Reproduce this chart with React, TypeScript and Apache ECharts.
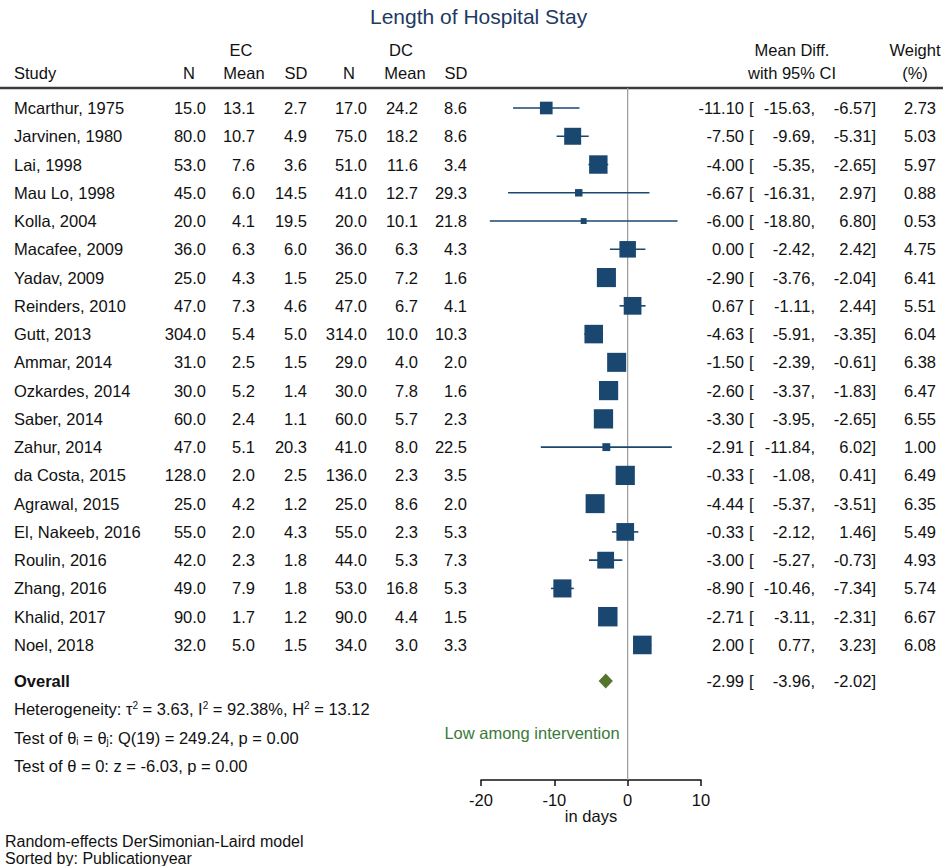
import React, { useEffect, useRef } from "react";
import * as echarts from "echarts";

const studies = [
  "Mcarthur, 1975", "Jarvinen, 1980", "Lai, 1998", "Mau Lo, 1998", "Kolla, 2004",
  "Macafee, 2009", "Yadav, 2009", "Reinders, 2010", "Gutt, 2013", "Ammar, 2014",
  "Ozkardes, 2014", "Saber, 2014", "Zahur, 2014", "da Costa, 2015", "Agrawal, 2015",
  "El, Nakeeb, 2016", "Roulin, 2016", "Zhang, 2016", "Khalid, 2017", "Noel, 2018",
];
const ecN = [15.0, 80.0, 53.0, 45.0, 20.0, 36.0, 25.0, 47.0, 304.0, 31.0, 30.0, 60.0, 47.0, 128.0, 25.0, 55.0, 42.0, 49.0, 90.0, 32.0];
const ecMean = [13.1, 10.7, 7.6, 6.0, 4.1, 6.3, 4.3, 7.3, 5.4, 2.5, 5.2, 2.4, 5.1, 2.0, 4.2, 2.0, 2.3, 7.9, 1.7, 5.0];
const ecSD = [2.7, 4.9, 3.6, 14.5, 19.5, 6.0, 1.5, 4.6, 5.0, 1.5, 1.4, 1.1, 20.3, 2.5, 1.2, 4.3, 1.8, 1.8, 1.2, 1.5];
const dcN = [17.0, 75.0, 51.0, 41.0, 20.0, 36.0, 25.0, 47.0, 314.0, 29.0, 30.0, 60.0, 41.0, 136.0, 25.0, 55.0, 44.0, 53.0, 90.0, 34.0];
const dcMean = [24.2, 18.2, 11.6, 12.7, 10.1, 6.3, 7.2, 6.7, 10.0, 4.0, 7.8, 5.7, 8.0, 2.3, 8.6, 2.3, 5.3, 16.8, 4.4, 3.0];
const dcSD = [8.6, 8.6, 3.4, 29.3, 21.8, 4.3, 1.6, 4.1, 10.3, 2.0, 1.6, 2.3, 22.5, 3.5, 2.0, 5.3, 7.3, 5.3, 1.5, 3.3];
const meanDiff = [-11.10, -7.50, -4.00, -6.67, -6.00, 0.00, -2.90, 0.67, -4.63, -1.50, -2.60, -3.30, -2.91, -0.33, -4.44, -0.33, -3.00, -8.90, -2.71, 2.00];
const ciLow = [-15.63, -9.69, -5.35, -16.31, -18.80, -2.42, -3.76, -1.11, -5.91, -2.39, -3.37, -3.95, -11.84, -1.08, -5.37, -2.12, -5.27, -10.46, -3.11, 0.77];
const ciHigh = [-6.57, -5.31, -2.65, 2.97, 6.80, 2.42, -2.04, 2.44, -3.35, -0.61, -1.83, -2.65, 6.02, 0.41, -3.51, 1.46, -0.73, -7.34, -2.31, 3.23];
const weights = [2.73, 5.03, 5.97, 0.88, 0.53, 4.75, 6.41, 5.51, 6.04, 6.38, 6.47, 6.55, 1.00, 6.49, 6.35, 5.49, 4.93, 5.74, 6.67, 6.08];
const overallEst = -2.99;
const overallLow = -3.96;
const overallHigh = -2.02;
const xTicks = [-20, -10, 0, 10];

const FONT_FAMILY = '"Liberation Sans", Arial, Helvetica, sans-serif';
const FS = 16.5;
const FONT = `${FS}px ${FONT_FAMILY}`;
const BOLD = `bold ${FS}px ${FONT_FAMILY}`;
const NAVY = "#1a476f";
const GREEN = "#55752f";
const TXT = "#111";

// layout
const Y_MIN = -0.708;
const Y_MAX = 23.779;
const OVERALL_ROW = 20.28;
const COL = {
  study: 14, ecN: 206, ecMean: 255, ecSD: 307, dcN: 367, dcMean: 418, dcSD: 467,
  est: 744, brk: 749, lo: 815, hi: 876, wt: 936,
};

function T(x: number, y: number, text: string, align: string, font = FONT, fill = TXT, rich?: any, extra?: any) {
  const style: any = {
    text, font, fill,
    align, verticalAlign: "middle",
    textAlign: align, textVerticalAlign: "middle",
  };
  if (rich) style.rich = rich;
  if (extra) Object.assign(style, extra);
  return { type: "text", x, y, silent: true, style };
}

export default function App() {
  const ref = useRef<HTMLDivElement>(null);
  useEffect(() => {
    const chart = echarts.init(ref.current!, null, { renderer: "svg" });
    const sup = { fontSize: 10, fontFamily: FONT_FAMILY, verticalAlign: "top", fill: TXT, color: TXT };
    const sub = { fontSize: 10, fontFamily: FONT_FAMILY, verticalAlign: "bottom", fill: TXT, color: TXT };
    const option: any = {
      animation: false,
      backgroundColor: "#fff",
      title: {
        text: "Length of Hospital Stay",
        left: 370,
        top: 6,
        padding: 0,
        textStyle: { fontSize: 21, fontWeight: "normal", color: "#1e3a5f", fontFamily: FONT_FAMILY },
      },
      grid: [
        { left: 0, right: 0, top: 88, bottom: 86 },
        { left: 481, right: 242, top: 88, bottom: 86 },
      ],
      xAxis: [
        { type: "value", gridIndex: 0, min: 0, max: 943, show: false },
        {
          type: "value", gridIndex: 1, min: xTicks[0], max: xTicks[xTicks.length - 1], interval: 10,
          name: "in days", nameLocation: "middle", nameGap: 27, nameMoveOverlap: false,
          nameTextStyle: { fontSize: FS, color: TXT, fontFamily: FONT_FAMILY },
          axisLine: { show: true, onZero: false, lineStyle: { color: "#111", width: 1.5 } },
          axisTick: { show: true, inside: false, length: 6, lineStyle: { color: "#111", width: 1.5 } },
          axisLabel: { fontSize: FS, color: TXT, fontFamily: FONT_FAMILY, margin: 11 },
          splitLine: { show: false },
        },
      ],
      yAxis: [
        { type: "value", gridIndex: 0, min: Y_MIN, max: Y_MAX, inverse: true, show: false },
        { type: "value", gridIndex: 1, min: Y_MIN, max: Y_MAX, inverse: true, show: false },
      ],
      series: [
        {
          type: "custom",
          name: "table",
          xAxisIndex: 0, yAxisIndex: 0,
          silent: true,
          data: studies.map((_, i) => [0, i]),
          renderItem: (params: any, api: any) => {
            const i = params.dataIndex;
            const y = api.coord([0, i])[1];
            return {
              type: "group",
              children: [
                T(COL.study, y, studies[i], "left"),
                T(COL.ecN, y, ecN[i].toFixed(1), "right"),
                T(COL.ecMean, y, ecMean[i].toFixed(1), "right"),
                T(COL.ecSD, y, ecSD[i].toFixed(1), "right"),
                T(COL.dcN, y, dcN[i].toFixed(1), "right"),
                T(COL.dcMean, y, dcMean[i].toFixed(1), "right"),
                T(COL.dcSD, y, dcSD[i].toFixed(1), "right"),
                T(COL.est, y, meanDiff[i].toFixed(2), "right"),
                T(COL.brk, y, "[", "left"),
                T(COL.lo, y, ciLow[i].toFixed(2) + ",", "right"),
                T(COL.hi, y, ciHigh[i].toFixed(2) + "]", "right"),
                T(COL.wt, y, weights[i].toFixed(2), "right"),
              ],
            };
          },
        },
        {
          type: "custom",
          name: "overallText",
          xAxisIndex: 0, yAxisIndex: 0,
          silent: true,
          data: [[0, OVERALL_ROW]],
          renderItem: (params: any, api: any) => {
            const y = api.coord([0, api.value(1)])[1];
            return {
              type: "group",
              children: [
                T(COL.study, y, "Overall", "left", BOLD),
                T(COL.est, y, overallEst.toFixed(2), "right"),
                T(COL.brk, y, "[", "left"),
                T(COL.lo, y, overallLow.toFixed(2) + ",", "right"),
                T(COL.hi, y, overallHigh.toFixed(2) + "]", "right"),
              ],
            };
          },
        },
        {
          type: "custom",
          name: "zeroLine",
          xAxisIndex: 1, yAxisIndex: 1,
          silent: true, z: 1,
          data: [[0]],
          renderItem: (params: any, api: any) => {
            const cs = params.coordSys;
            const x = api.coord([api.value(0), 0])[0];
            return {
              type: "line",
              shape: { x1: x, y1: cs.y, x2: x, y2: cs.y + cs.height },
              style: { stroke: "#9a9a9a", lineWidth: 1.2 },
            };
          },
        },
        {
          type: "custom",
          name: "ci",
          xAxisIndex: 1, yAxisIndex: 1,
          silent: true, z: 2,
          data: ciLow.map((l, i) => [l, ciHigh[i], i]),
          encode: { x: [0, 1], y: 2 },
          renderItem: (params: any, api: any) => {
            const a = api.coord([api.value(0), api.value(2)]);
            const b = api.coord([api.value(1), api.value(2)]);
            return {
              type: "line",
              shape: { x1: a[0], y1: a[1], x2: b[0], y2: b[1] },
              style: { stroke: NAVY, lineWidth: 1.6 },
            };
          },
        },
        {
          type: "scatter",
          name: "estimates",
          xAxisIndex: 1, yAxisIndex: 1,
          silent: true, z: 3,
          symbol: "rect",
          data: meanDiff.map((m, i) => [m, i]),
          symbolSize: (_v: any, p: any) => 7.3 * Math.sqrt(weights[p.dataIndex]) + 0.6,
          itemStyle: { color: NAVY, opacity: 1 },
        },
        {
          type: "custom",
          name: "overall",
          xAxisIndex: 1, yAxisIndex: 1,
          silent: true, z: 3,
          data: [[overallLow, overallEst, overallHigh, OVERALL_ROW]],
          encode: { x: [0, 1, 2], y: 3 },
          renderItem: (params: any, api: any) => {
            const r = api.value(3);
            const l = api.coord([api.value(0), r]);
            const c = api.coord([api.value(1), r]);
            const h = api.coord([api.value(2), r]);
            const hh = 7.5;
            return {
              type: "polygon",
              shape: { points: [[l[0], l[1]], [c[0], c[1] - hh], [h[0], h[1]], [c[0], c[1] + hh]] },
              style: { fill: GREEN },
            };
          },
        },
      ],
      graphic: [
        T(241, 50, "EC", "center"),
        T(401, 50, "DC", "center"),
        T(14, 73, "Study", "left"),
        T(189, 73, "N", "center"),
        T(244, 73, "Mean", "center"),
        T(296, 73, "SD", "center"),
        T(349, 73, "N", "center"),
        T(405, 73, "Mean", "center"),
        T(456, 73, "SD", "center"),
        T(792, 50, "Mean Diff.", "center"),
        T(792, 73, "with 95% CI", "center"),
        T(915, 50, "Weight", "center"),
        T(915, 73, "(%)", "center"),
        {
          type: "line", silent: true,
          shape: { x1: 0, y1: 88, x2: 943, y2: 88 },
          style: { stroke: "#3a3a3a", lineWidth: 2.5 },
        },
        T(14, 709, "Heterogeneity: τ{sup|2} = 3.63, I{sup|2} = 92.38%, H{sup|2} = 13.12", "left", FONT, TXT, { sup }),
        T(14, 738, "Test of θ{sub|i} = θ{sub|j}: Q(19) = 249.24, p = 0.00", "left", FONT, TXT, { sub }),
        T(14, 766, "Test of θ = 0: z = -6.03, p = 0.00", "left"),
        T(532, 733, "Low among intervention", "center", FONT, "#3a7a3a"),
        T(5, 849.5, "Random-effects DerSimonian-Laird model\nSorted by: Publicationyear", "left", `16px ${FONT_FAMILY}`, TXT, undefined, { lineHeight: 17 }),
      ],
    };
    chart.setOption(option);
    return () => chart.dispose();
  }, []);
  return (
    <div
      ref={ref}
      style={{ position: "fixed", left: 0, top: 0, width: 943, height: 866, background: "#fff" }}
    />
  );
}
